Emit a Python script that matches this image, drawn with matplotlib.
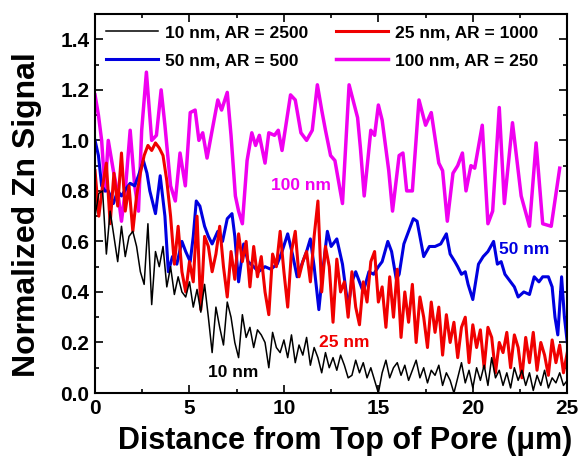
import numpy as np
import matplotlib.pyplot as plt
from matplotlib.ticker import MultipleLocator

plt.rcParams['font.family'] = ['Liberation Sans', 'DejaVu Sans']
plt.rcParams['font.weight'] = 'bold'

# 10 nm pores, sampled every 0.2 um
y_10nm = [0.70, 0.79, 0.80, 0.55, 0.72, 0.62, 0.52, 0.66, 0.54, 0.62,
          0.64, 0.58, 0.48, 0.43, 0.67, 0.35, 0.56, 0.50, 0.58, 0.42,
          0.50, 0.39, 0.46, 0.40, 0.38, 0.44, 0.34, 0.41, 0.32, 0.43,
          0.30, 0.16, 0.34, 0.26, 0.19, 0.36, 0.30, 0.20, 0.14, 0.31,
          0.22, 0.26, 0.18, 0.25, 0.23, 0.20, 0.10, 0.24, 0.18, 0.16,
          0.21, 0.14, 0.23, 0.12, 0.19, 0.15, 0.22, 0.11, 0.18, 0.14,
          0.08, 0.16, 0.10, 0.14, 0.09, 0.15, 0.11, 0.06, 0.07, 0.13,
          0.08, 0.12, 0.06, 0.10, 0.05, 0.00, 0.08, 0.13, 0.06, 0.10,
          0.12, 0.07, 0.11, 0.05, 0.09, 0.13, 0.06, 0.10, 0.04, 0.09,
          0.07, 0.11, 0.03, 0.08, 0.05, 0.00, 0.06, 0.12, 0.04, 0.09,
          0.02, 0.10, 0.05, 0.11, 0.03, 0.14, 0.06, 0.09, 0.03, 0.08,
          0.02, 0.10, 0.05, 0.09, 0.03, 0.08, 0.01, 0.07, 0.03, 0.09,
          0.02, 0.06, 0.04, 0.08, 0.03, 0.05]

# 25 nm pores, sampled every 0.2 um
y_25nm = [0.88, 0.70, 0.82, 0.91, 0.67, 0.87, 0.74, 0.95, 0.72, 0.82,
          0.64, 0.78, 0.87, 0.94, 0.98, 0.96, 0.99, 0.97, 0.94, 0.84,
          0.70, 0.51, 0.66, 0.48, 0.40, 0.52, 0.44, 0.70, 0.33, 0.62,
          0.58, 0.48, 0.55, 0.66, 0.50, 0.38, 0.56, 0.45, 0.63, 0.52,
          0.60, 0.42, 0.58, 0.46, 0.54, 0.40, 0.31, 0.55, 0.50, 0.64,
          0.48, 0.34, 0.56, 0.64, 0.46, 0.52, 0.56, 0.44, 0.62, 0.76,
          0.40, 0.58, 0.50, 0.28, 0.53, 0.40, 0.44, 0.30, 0.48, 0.34,
          0.27, 0.44, 0.36, 0.52, 0.56, 0.36, 0.42, 0.26, 0.46, 0.30,
          0.49, 0.22, 0.40, 0.28, 0.43, 0.20, 0.38, 0.30, 0.18, 0.36,
          0.24, 0.34, 0.15, 0.31, 0.20, 0.28, 0.14, 0.26, 0.30, 0.12,
          0.27, 0.18, 0.25, 0.10, 0.26, 0.22, 0.08, 0.20, 0.16, 0.24,
          0.10, 0.23, 0.18, 0.06, 0.22, 0.12, 0.24, 0.09, 0.20, 0.15,
          0.07, 0.21, 0.12, 0.19, 0.08, 0.16]

x_50nm = [0.0, 0.18, 0.35, 0.53, 0.7, 0.97, 1.2, 1.4, 1.65, 1.86,
          2.1, 2.3, 2.56, 2.75, 2.9, 3.2, 3.45, 3.7, 3.88, 4.1,
          4.33, 4.6, 4.8, 5.04, 5.2, 5.36, 5.55, 5.8, 6.0, 6.2,
          6.5, 6.75, 7.0, 7.25, 7.4, 7.6, 7.87, 8.1, 8.4, 8.65,
          9.0, 9.3, 9.64, 9.9, 10.2, 10.45, 10.7, 11.0, 11.2, 11.4,
          11.6, 11.85, 12.05, 12.3, 12.5, 12.8, 13.1, 13.4, 13.6, 13.8,
          14.0, 14.2, 14.5, 14.75, 15.0, 15.2, 15.5, 15.7, 15.95, 16.1,
          16.35, 16.6, 16.85, 17.05, 17.4, 17.7, 18.0, 18.3, 18.6, 18.8,
          19.05, 19.2, 19.4, 19.6, 19.75, 20.0, 20.3, 20.55, 20.8, 21.1,
          21.3, 21.5, 21.7, 21.9, 22.2, 22.4, 22.7, 23.0, 23.25, 23.5,
          23.7, 24.0, 24.2, 24.35, 24.5, 24.7, 24.85, 25.0]
y_50nm = [1.00, 0.94, 0.82, 0.80, 0.80, 0.75, 0.80, 0.78, 0.81, 0.83,
          0.82, 0.86, 0.92, 0.87, 0.80, 0.71, 0.86, 0.70, 0.48, 0.54,
          0.51, 0.60, 0.56, 0.52, 0.62, 0.76, 0.74, 0.66, 0.62, 0.59,
          0.64, 0.60, 0.69, 0.71, 0.62, 0.44, 0.59, 0.52, 0.50, 0.48,
          0.50, 0.49, 0.51, 0.56, 0.63, 0.55, 0.46, 0.52, 0.56, 0.61,
          0.50, 0.33, 0.48, 0.64, 0.58, 0.61, 0.51, 0.34, 0.44, 0.48,
          0.44, 0.40, 0.48, 0.47, 0.50, 0.52, 0.60, 0.56, 0.45, 0.47,
          0.59, 0.64, 0.69, 0.68, 0.54, 0.58, 0.58, 0.59, 0.63, 0.55,
          0.52, 0.50, 0.47, 0.48, 0.43, 0.37, 0.51, 0.54, 0.56, 0.60,
          0.51, 0.52, 0.47, 0.45, 0.42, 0.38, 0.40, 0.39, 0.46, 0.44,
          0.46, 0.46, 0.42, 0.30, 0.23, 0.46, 0.30, 0.20]

x_100nm = [0.0, 0.18, 0.35, 0.53, 0.7, 0.97, 1.23, 1.4, 1.6, 1.86,
           2.1, 2.3, 2.47, 2.72, 3.0, 3.25, 3.5, 3.7, 4.0, 4.25,
           4.5, 4.78, 5.04, 5.3, 5.5, 5.7, 5.93, 6.2, 6.5, 6.7,
           7.0, 7.2, 7.43, 7.6, 7.8, 8.05, 8.3, 8.5, 8.7, 9.0,
           9.2, 9.5, 9.7, 9.9, 10.35, 10.6, 10.9, 11.2, 11.5, 11.77,
           12.0, 12.2, 12.47, 12.7, 13.1, 13.45, 13.9, 14.05, 14.25, 14.6,
           14.8, 15.0, 15.2, 15.55, 15.75, 16.1, 16.3, 16.5, 16.8, 17.15,
           17.5, 17.8, 18.2, 18.4, 18.65, 18.95, 19.2, 19.45, 19.64, 19.9,
           20.1, 20.5, 20.8, 21.05, 21.4, 21.67, 22.1, 22.56, 23.0, 23.35,
           23.7, 24.15, 24.6]
y_100nm = [1.18, 1.10, 1.00, 0.80, 1.00, 0.88, 0.78, 0.68, 0.80, 1.04,
           0.82, 0.72, 1.04, 1.27, 1.00, 1.02, 1.20, 1.06, 0.82, 0.76,
           0.95, 0.82, 1.11, 1.12, 1.00, 1.03, 0.93, 1.04, 1.16, 1.12,
           1.19, 1.02, 0.78, 0.72, 0.67, 0.92, 1.03, 0.98, 1.02, 0.91,
           1.03, 1.02, 1.04, 0.96, 1.18, 1.16, 1.03, 1.00, 1.04, 1.22,
           1.12, 1.04, 0.94, 0.92, 0.75, 1.22, 1.09, 0.97, 0.78, 1.04,
           1.02, 1.14, 1.08, 0.88, 0.72, 0.94, 0.95, 0.80, 0.80, 1.16,
           1.06, 1.11, 0.91, 0.88, 0.68, 0.87, 0.90, 0.95, 0.80, 0.90,
           0.89, 1.06, 0.67, 0.72, 1.13, 0.75, 1.07, 0.78, 0.66, 0.99,
           0.67, 0.66, 0.89]

x_10nm = np.linspace(0, 25, len(y_10nm))
x_25nm = np.linspace(0, 25, len(y_25nm))

fig = plt.figure(figsize=(5.83, 4.61), dpi=100)
ax = fig.add_axes([0.163, 0.1475, 0.81, 0.822])

l100, = ax.plot(x_100nm, y_100nm, color='#f000f0', lw=2.5, label='100 nm, AR = 250')
l50, = ax.plot(x_50nm, y_50nm, color='#0000e0', lw=2.2, label='50 nm, AR = 500')
l25, = ax.plot(x_25nm, y_25nm, color='#f00000', lw=2.2, label='25 nm, AR = 1000')
l10, = ax.plot(x_10nm, y_10nm, color='black', lw=1.1, label='10 nm, AR = 2500')

ax.set_xlim(0, 25)
ax.set_ylim(0, 1.5)
ax.set_yticks(np.arange(0, 1.41, 0.2))
ax.xaxis.set_major_locator(MultipleLocator(5))
ax.xaxis.set_minor_locator(MultipleLocator(2.5))
ax.yaxis.set_minor_locator(MultipleLocator(0.1))
ax.tick_params(which='both', direction='in', top=True, right=True, width=1.2)
ax.tick_params(which='major', length=6, labelsize=15, pad=4)
ax.tick_params(which='minor', length=3)
for lab in ax.get_xticklabels() + ax.get_yticklabels():
    lab.set_fontweight('bold')
for s in ax.spines.values():
    s.set_linewidth(1.5)

ax.set_xlabel('Distance from Top of Pore (\u03bcm)', fontsize=22, fontweight='bold')
ax.set_ylabel('Normalized Zn Signal', fontsize=23, fontweight='bold')
ax.xaxis.set_label_coords(0.53, -0.088)
ax.yaxis.set_label_coords(-0.112, 0.47)

ax.legend(handles=[l10, l50, l25, l100], ncol=2, loc='upper left',
          bbox_to_anchor=(-0.01, 1.012), frameon=False, handlelength=3.0,
          columnspacing=1.6, labelspacing=0.75, handletextpad=0.4,
          prop={'size': 12.5, 'weight': 'bold'})

ax.text(10.9, 0.82, '100 nm', color='#f000f0', fontsize=12.5, fontweight='bold', ha='center', va='center')
ax.text(22.7, 0.57, '50 nm', color='#0000e0', fontsize=12.5, fontweight='bold', ha='center', va='center')
ax.text(13.2, 0.20, '25 nm', color='#f00000', fontsize=12.5, fontweight='bold', ha='center', va='center')
ax.text(7.3, 0.08, '10 nm', color='black', fontsize=12.5, fontweight='bold', ha='center', va='center')

fig.savefig('out.png', dpi=100)
